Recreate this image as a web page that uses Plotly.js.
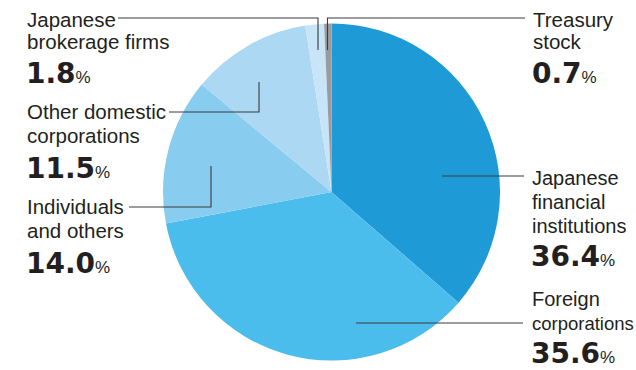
<!DOCTYPE html>
<html>
<head>
<meta charset="utf-8">
<script src="https://cdn.plot.ly/plotly-3.0.1.min.js"></script>
<style>html,body{margin:0;padding:0;background:#fff;}#chart{width:636px;height:370px;}</style>
</head>
<body>
<div id="chart"></div>
<script>
// ---- data ----
const categories = ["Japanese financial institutions", "Foreign corporations", "Individuals and others", "Other domestic corporations", "Japanese brokerage firms", "Treasury stock"];
const shares = [36.4, 35.6, 14.0, 11.5, 1.8, 0.7];
const sliceColors = ["#1e9ad6", "#4bbdec", "#88cdf0", "#acd8f3", "#c8e5f8", "#9b9b9b"];
const labelLines = [
  ["Japanese", "financial", "institutions"],
  ["Foreign", "corporations"],
  ["Individuals", "and others"],
  ["Other domestic", "corporations"],
  ["Japanese", "brokerage firms"],
  ["Treasury", "stock"]
];

// ---- layout helpers (pixel -> paper) ----
const W = 636, H = 370;
const px = x => x / W;
const py = y => 1 - y / H;

// label placement: left x, baselines of text lines, baseline of number, per-line font sizes
const labelPos = [
  {x: 531, lines: [185, 209, 233], num: 266, sizes: [20, 20, 20]},
  {x: 531, lines: [306, 330], num: 363, sizes: [20, 18.5]},
  {x: 26, lines: [213, 237], num: 273, sizes: [20.5, 20.5]},
  {x: 26, lines: [118, 142], num: 178, sizes: [20.5, 20.5]},
  {x: 26, lines: [26, 49], num: 83, sizes: [20.5, 20.5]},
  {x: 532, lines: [26, 49], num: 83, sizes: [20.5, 20.5]}
];

const textColor = "#231f20";
const annotations = [];
categories.forEach((c, i) => {
  const p = labelPos[i];
  labelLines[i].forEach((t, j) => {
    annotations.push({
      xref: "paper", yref: "paper", x: px(p.x), y: py(p.lines[j] - 7),
      xanchor: "left", yanchor: "middle", showarrow: false, borderpad: 0,
      text: t, font: {family: "Liberation Sans, Arial, sans-serif", size: p.sizes[j], color: textColor}
    });
  });
  annotations.push({
    xref: "paper", yref: "paper", x: px(p.x - 1), y: py(p.num - 10),
    xanchor: "left", yanchor: "middle", showarrow: false, borderpad: 0,
    text: shares[i].toFixed(1) + "<span style='font-family:Liberation Sans, Arial, sans-serif;font-size:17px;font-weight:normal'>%</span>",
    font: {family: "DejaVu Sans, sans-serif", size: 28, color: textColor, weight: "bold"}
  });
});

// leader lines (pixel paths)
const leaders = [
  [[442, 176], [524, 176]],
  [[356, 323], [523, 323]],
  [[129, 207], [211, 207], [211, 166]],
  [[169, 112], [259, 112], [259, 82]],
  [[118, 18], [318, 18], [318, 50]],
  [[327.5, 50], [327.5, 18], [525, 18]]
];
const shapes = leaders.map(pts => ({
  type: "path", xref: "paper", yref: "paper",
  path: pts.map((pt, k) => (k ? "L" : "M") + px(pt[0]) + "," + py(pt[1])).join(" "),
  line: {color: "#3a3a3a", width: 1.1}
}));

const cx = 331.5, cy = 192, r = 168.5;
const data = [{
  type: "pie",
  labels: categories,
  values: shares,
  sort: false,
  direction: "clockwise",
  rotation: 0,
  textinfo: "none",
  hoverinfo: "label+percent",
  marker: {colors: sliceColors, line: {width: 0}},
  domain: {x: [px(cx - r), px(cx + r)], y: [py(cy + r), py(cy - r)]},
  showlegend: false
}];

const layout = {
  width: W, height: H,
  margin: {l: 0, r: 0, t: 0, b: 0},
  paper_bgcolor: "#ffffff",
  showlegend: false,
  annotations: annotations,
  shapes: shapes
};

Plotly.newPlot("chart", data, layout, {displayModeBar: false, staticPlot: true});
</script>
</body>
</html>
